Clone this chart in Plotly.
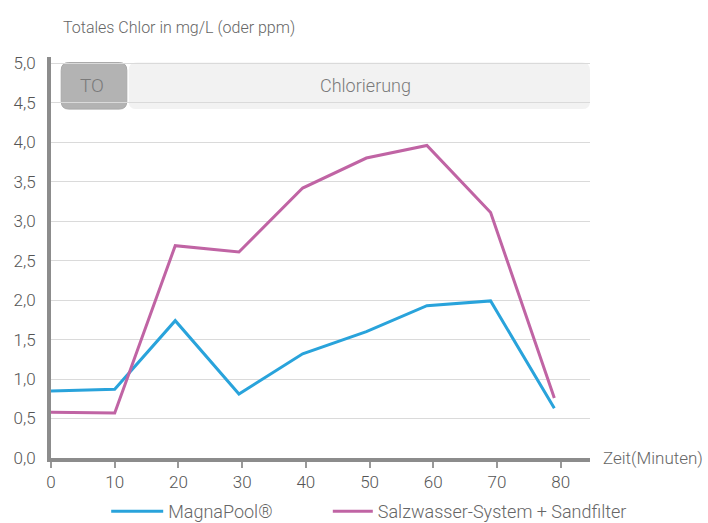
import plotly.graph_objects as go

# ---- data ----
minutes = [0, 10, 19.5, 29.5, 39.5, 49.5, 59, 69, 79]
magnapool = [0.85, 0.87, 1.74, 0.81, 1.32, 1.60, 1.93, 1.99, 0.63]
salzwasser = [0.58, 0.57, 2.69, 2.61, 3.42, 3.80, 3.96, 3.11, 0.76]
series_names = ["MagnaPool®", "Salzwasser-System + Sandfilter"]
x_ticks = [0, 10, 20, 30, 40, 50, 60, 70, 80]
y_ticks = [0, 0.5, 1.0, 1.5, 2.0, 2.5, 3.0, 3.5, 4.0, 4.5, 5.0]
phase_labels = ["TO", "Chlorierung"]

FONT = "Roboto, Arial, sans-serif"
BLUE = "#29a3db"
PURPLE = "#c064a4"
TXT = "#666666"
TICK = "#555555"

fig = go.Figure()
fig.add_trace(go.Scatter(x=minutes, y=magnapool, mode="lines", name=series_names[0],
                         line=dict(color=BLUE, width=3), legend="legend"))
fig.add_trace(go.Scatter(x=minutes, y=salzwasser, mode="lines", name=series_names[1],
                         line=dict(color=PURPLE, width=3), legend="legend2"))

def rrect(x0, x1, y0, y1, rx, ry):
    return (f"M {x0+rx},{y0} L {x1-rx},{y0} Q {x1},{y0} {x1},{y0+ry} "
            f"L {x1},{y1-ry} Q {x1},{y1} {x1-rx},{y1} L {x0+rx},{y1} "
            f"Q {x0},{y1} {x0},{y1-ry} L {x0},{y0+ry} Q {x0},{y0} {x0+rx},{y0} Z")

band_y0, band_y1 = 4.42, 5.01
fig.add_shape(type="path", path=rrect(1.6, 11.9, band_y0, band_y1, 1.2, 0.1),
              xref="x", yref="y", fillcolor="#b3b3b3", line=dict(color="#a9a9a9", width=1),
              layer="below")
fig.add_shape(type="path", path=rrect(12.2, 84.6, band_y0, band_y1, 1.2, 0.1),
              xref="x", yref="y", fillcolor="#f2f2f2", line=dict(width=0),
              layer="below")
fig.add_annotation(x=6.4, y=(band_y0 + band_y1) / 2, text=phase_labels[0],
                   showarrow=False, font=dict(family=FONT, size=19, color="#7a7a7a", weight=300))
fig.add_annotation(x=49.3, y=(band_y0 + band_y1) / 2, text=phase_labels[1],
                   showarrow=False, font=dict(family=FONT, size=18, color="#7a7a7a", weight=300))

fig.add_annotation(xref="paper", yref="paper", x=0.018, y=1.045, xanchor="left", yanchor="bottom",
                   text="Totales Chlor in mg/L (oder ppm)", showarrow=False,
                   font=dict(family=FONT, size=16, color=TXT, weight=300))
fig.add_annotation(xref="paper", yref="y", x=1.02, y=0, xanchor="left", yanchor="middle",
                   text="Zeit(Minuten)", showarrow=False,
                   font=dict(family=FONT, size=17, color=TXT, weight=300))

legend_common = dict(orientation="h", xref="container", yref="container",
                     xanchor="left", y=0.022, yanchor="middle",
                     font=dict(family=FONT, size=18, color=TXT, weight=300),
                     bgcolor="rgba(0,0,0,0)")

fig.update_layout(
    width=708, height=523,
    margin=dict(l=51, r=118, t=57, b=65, autoexpand=False),
    paper_bgcolor="white", plot_bgcolor="white",
    separators=",.",
    font=dict(family=FONT, size=15, color=TXT, weight=300),
    showlegend=True,
    legend=dict(x=0.15, itemwidth=52, **legend_common),
    legend2=dict(x=0.463, itemwidth=40, **legend_common),
    xaxis=dict(range=[0, 84.6], tickvals=x_ticks, showgrid=False, zeroline=False,
               showline=True, linecolor="#8c8c8c", linewidth=4,
               ticks="outside", ticklen=6, tickwidth=1.5, tickcolor="#999999",
               tickfont=dict(family=FONT, size=17, color=TICK, weight=300)),
    yaxis=dict(range=[0, 5.08], tickvals=y_ticks, tickformat=".1f",
               showgrid=True, gridcolor="#dadada", gridwidth=1, zeroline=False,
               showline=True, linecolor="#8c8c8c", linewidth=4,
               ticks="", ticklabelstandoff=8,
               tickfont=dict(family=FONT, size=17, color=TICK, weight=300)),
)

fig.write_html("out.html", config={"displayModeBar": False},
               post_script="document.body.style.margin='0';document.body.style.overflow='hidden';")
